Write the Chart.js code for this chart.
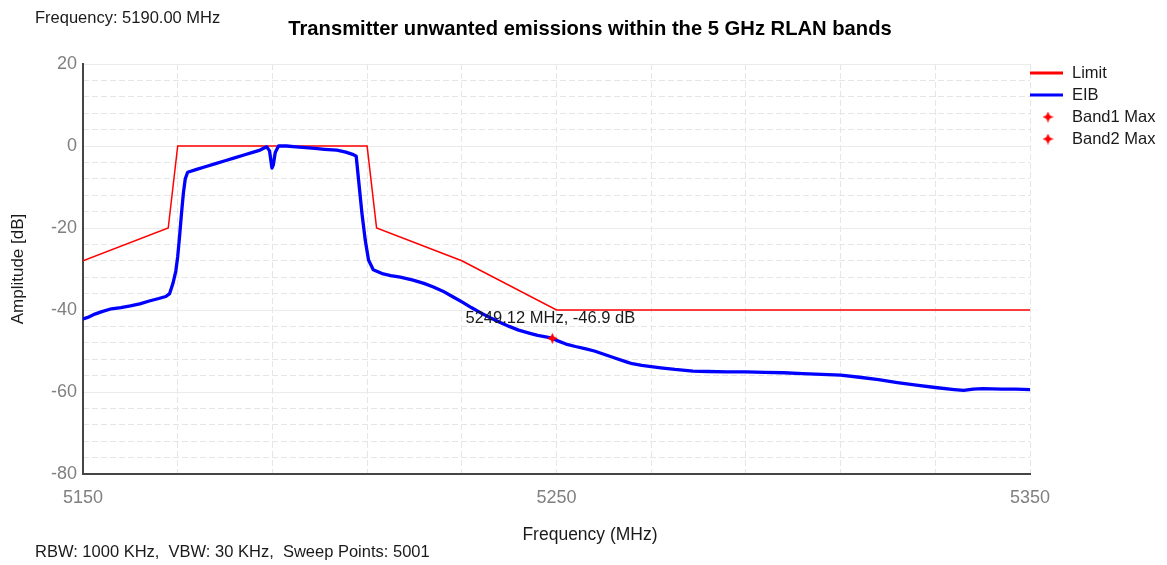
<!DOCTYPE html>
<html>
<head>
<meta charset="utf-8">
<title>Transmitter unwanted emissions within the 5 GHz RLAN bands</title>
<script src="https://cdn.jsdelivr.net/npm/chart.js@4/dist/chart.umd.min.js"></script>
<style>
  html, body { margin: 0; padding: 0; background: #ffffff; }
  #wrap { position: relative; width: 1167px; height: 565px; }
</style>
</head>
<body>
<div id="wrap"><canvas id="chart" width="1167" height="565"></canvas></div>
<script>
// Measured trace (EIB), MHz / dB
const eibFreq = [
  5150, 5151, 5152.5, 5154, 5156, 5158, 5160, 5162, 5164, 5166, 5167.5, 5168.3,
  5169, 5169.6, 5170, 5170.4, 5170.8, 5171.2, 5171.6, 5172.1, 5174, 5176, 5178,
  5180, 5182, 5184, 5186, 5187.4, 5188.8, 5189.4, 5189.9, 5190.2, 5190.6, 5191.3,
  5193, 5195, 5197, 5199, 5201, 5203.6, 5205.5, 5207.1, 5207.7, 5208.2, 5208.9,
  5209.6, 5210.3, 5211.3, 5213.4, 5215, 5217, 5219.7, 5222, 5224, 5226, 5228,
  5230.3, 5232, 5234, 5236, 5238, 5240, 5242, 5244.4, 5246, 5248, 5249.12, 5250,
  5252, 5254, 5256, 5258, 5260, 5262, 5264.9, 5266, 5268, 5270, 5272, 5275, 5278.8,
  5282, 5286, 5290, 5294, 5298, 5302, 5306, 5310, 5314, 5318, 5322, 5326, 5330,
  5334, 5336, 5338, 5340, 5344, 5347, 5350
];
const eibDb = [
  -42.2, -41.8, -41.0, -40.4, -39.7, -39.4, -39.0, -38.5, -37.8, -37.2, -36.7, -36.0,
  -33.5, -30.5, -27.0, -22.0, -16.5, -11.5, -8.0, -6.4, -5.7, -5.0, -4.3,
  -3.6, -2.9, -2.2, -1.5, -1.0, -0.2, -1.2, -5.4, -4.6, -1.6, 0.0,
  0.0, -0.2, -0.4, -0.6, -0.8, -1.0, -1.5, -2.1, -2.5, -8.3, -16.3,
  -22.9, -27.8, -30.2, -31.2, -31.6, -32.0, -32.7, -33.5, -34.4, -35.4, -36.7,
  -38.2, -39.4, -40.7, -41.9, -43.0, -44.0, -44.9, -45.7, -46.2, -46.6, -46.9, -47.4,
  -48.3, -48.9, -49.4, -50.0, -50.8, -51.6, -52.7, -53.1, -53.5, -53.8, -54.1, -54.5, -54.9,
  -55.0, -55.1, -55.1, -55.2, -55.3, -55.5, -55.7, -55.9, -56.4, -57.0, -57.7, -58.3, -58.9,
  -59.4, -59.6, -59.3, -59.2, -59.3, -59.3, -59.4
];

// Emission limit mask
const limitFreq = [5150, 5168, 5170, 5210, 5212, 5230, 5250, 5350];
const limitDb   = [-28, -20, 0, 0, -20, -28, -40, -40];

// Band maxima
const band1Freq = [5249.12];
const band1Db   = [-46.9];
const band2Freq = [];
const band2Db   = [];

// Axis ticks
const xTickLabels = [5150, 5250, 5350];
const yTickLabels = [20, 0, -20, -40, -60, -80];

const headerText = 'Frequency: 5190.00 MHz';
const titleText = 'Transmitter unwanted emissions within the 5 GHz RLAN bands';
const footerText = 'RBW: 1000 KHz,  VBW: 30 KHz,  Sweep Points: 5001';
const xTitle = 'Frequency (MHz)';
const yTitle = 'Amplitude [dB]';

const FONT = '"Liberation Sans", Arial, sans-serif';

function toPoints(xs, ys) {
  return xs.map((x, i) => ({ x: x, y: ys[i] }));
}

// small four-pointed star used as the maximum marker
function makeStar(color, size) {
  const c = document.createElement('canvas');
  c.width = size; c.height = size;
  const g = c.getContext('2d');
  const m = size / 2, ro = size / 2, ri = size * 0.22;
  g.fillStyle = color;
  g.beginPath();
  for (let k = 0; k < 8; k++) {
    const a = -Math.PI / 2 + k * Math.PI / 4;
    const r = k % 2 === 0 ? ro : ri;
    const px = m + r * Math.cos(a), py = m + r * Math.sin(a);
    if (k === 0) g.moveTo(px, py); else g.lineTo(px, py);
  }
  g.closePath();
  g.fill();
  return c;
}
const starMark = makeStar('#ff0000', 11);

// titles, notes, legend and marker readout
const annotations = {
  id: 'annotations',
  afterDatasetsDraw(chart) {
    const ctx = chart.ctx;
    const meta = chart.getDatasetMeta(2);
    const ds = chart.data.datasets[2];
    ctx.save();
    ctx.fillStyle = '#1a1a1a';
    ctx.textAlign = 'center';
    ctx.textBaseline = 'middle';
    ctx.font = '16.5px ' + FONT;
    meta.data.forEach((el, i) => {
      const p = ds.data[i];
      ctx.fillText(p.x.toFixed(2) + ' MHz, ' + p.y.toFixed(1) + ' dB', el.x - 2, el.y - 20);
    });
    ctx.restore();
  },
  afterDraw(chart) {
    const ctx = chart.ctx;
    ctx.save();
    ctx.textBaseline = 'middle';
    ctx.fillStyle = '#1a1a1a';
    ctx.textAlign = 'left';
    ctx.font = '16.5px ' + FONT;
    ctx.fillText(headerText, 35, 18);
    ctx.fillText(footerText, 35, 552);

    ctx.fillStyle = '#000000';
    ctx.textAlign = 'center';
    ctx.font = 'bold 20.2px ' + FONT;
    ctx.fillText(titleText, 590, 29);

    ctx.fillStyle = '#1a1a1a';
    ctx.font = '17.5px ' + FONT;
    ctx.fillText(xTitle, 590, 535);

    // legend
    ctx.textAlign = 'left';
    ctx.font = '16.5px ' + FONT;
    chart.data.datasets.forEach((d, i) => {
      const y = 73 + i * 22;
      if (d.showLine === false) {
        ctx.drawImage(d.pointStyle, 1048 - 5.5, y - 5.5);
      } else {
        ctx.strokeStyle = d.borderColor;
        ctx.lineWidth = 3;
        ctx.beginPath();
        ctx.moveTo(1030, y);
        ctx.lineTo(1063, y);
        ctx.stroke();
      }
      ctx.fillStyle = '#1a1a1a';
      ctx.fillText(d.label, 1072, y);
    });
    ctx.restore();
  }
};

new Chart(document.getElementById('chart'), {
  type: 'line',
  data: {
    datasets: [
      {
        label: 'Limit',
        data: toPoints(limitFreq, limitDb),
        borderColor: '#ff0000',
        borderWidth: 1.5,
        pointRadius: 0,
        tension: 0,
        order: 2
      },
      {
        label: 'EIB',
        data: toPoints(eibFreq, eibDb),
        borderColor: '#0000ff',
        borderWidth: 3.3,
        borderJoinStyle: 'round',
        borderCapStyle: 'round',
        pointRadius: 0,
        tension: 0,
        order: 1
      },
      {
        label: 'Band1 Max',
        data: toPoints(band1Freq, band1Db),
        showLine: false,
        pointStyle: starMark,
        pointRadius: 5.5,
        borderColor: '#ff0000',
        backgroundColor: '#ff0000',
        order: 0
      },
      {
        label: 'Band2 Max',
        data: toPoints(band2Freq, band2Db),
        showLine: false,
        pointStyle: starMark,
        pointRadius: 5.5,
        borderColor: '#ff0000',
        backgroundColor: '#ff0000',
        order: 0
      }
    ]
  },
  options: {
    responsive: false,
    animation: false,
    devicePixelRatio: 1,
    layout: { padding: { left: 0, right: 137, top: 64, bottom: 0 } },
    plugins: {
      legend: { display: false },
      title: { display: false },
      tooltip: { enabled: false }
    },
    scales: {
      x: {
        type: 'linear',
        min: 5150,
        max: 5350,
        afterFit(scale) { scale.height = 91; },
        ticks: {
          stepSize: 20,
          autoSkip: false,
          maxRotation: 0,
          padding: 13,
          color: '#808080',
          font: { family: FONT, size: 18 },
          callback: (v) => xTickLabels.includes(v) ? String(v) : ''
        },
        grid: { color: '#e6e6e6', lineWidth: 1, drawTicks: false },
        border: { display: true, color: '#454545', width: 2, dash: [6, 3] }
      },
      y: {
        type: 'linear',
        position: 'left',
        min: -80,
        max: 20,
        afterFit(scale) { scale.width = 83; },
        ticks: {
          stepSize: 20,
          padding: 6,
          color: '#808080',
          font: { family: FONT, size: 18 },
          callback: (v) => yTickLabels.includes(v) ? String(v) : ''
        },
        grid: { color: '#ebebeb', lineWidth: 1, drawTicks: false },
        border: { display: true, color: '#454545', width: 2 },
        title: {
          display: true,
          text: yTitle,
          color: '#1a1a1a',
          font: { family: FONT, size: 17 },
          padding: { top: 8, bottom: 0 }
        }
      },
      yMinor: {
        type: 'linear',
        position: 'left',
        min: -80,
        max: 20,
        afterFit(scale) { scale.width = 0; },
        ticks: { display: false, stepSize: 4 },
        grid: {
          drawTicks: false,
          lineWidth: 1,
          color: (c) => (c.tick && c.tick.value % 20 === 0) ? 'rgba(0,0,0,0)' : '#e6e6e6'
        },
        border: { display: false, dash: [6, 3] }
      }
    }
  },
  plugins: [annotations]
});
</script>
</body>
</html>
